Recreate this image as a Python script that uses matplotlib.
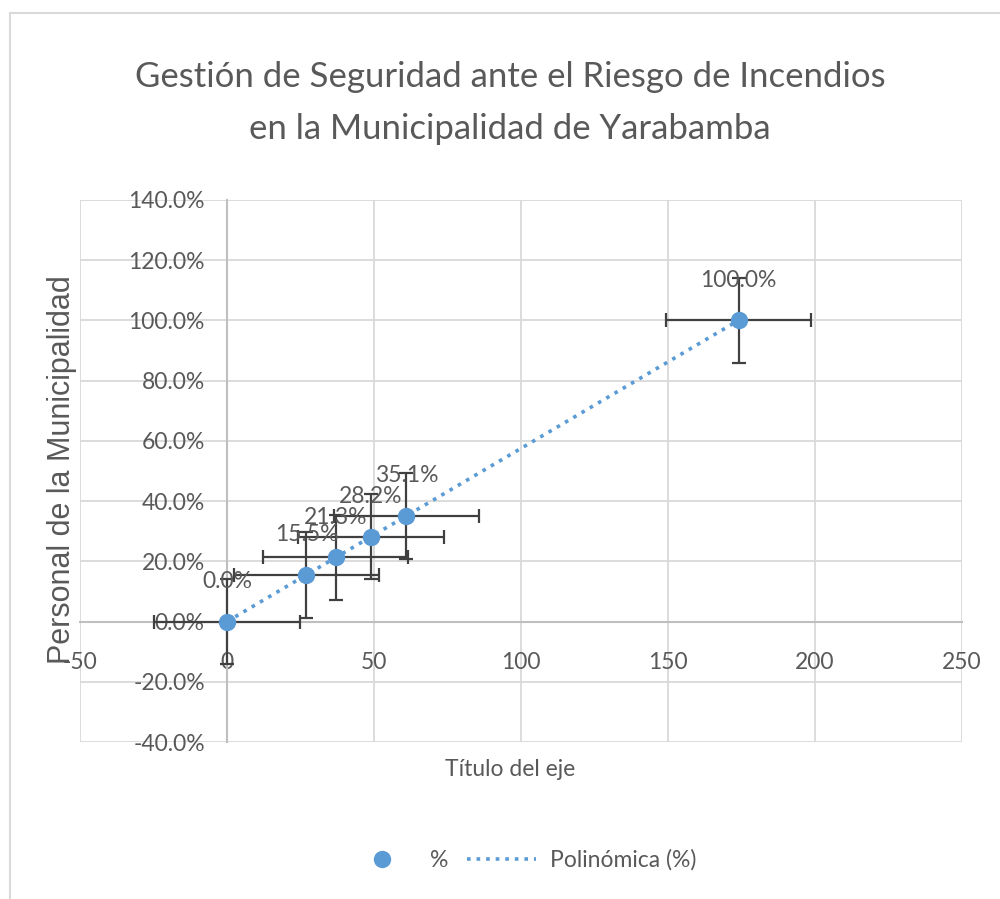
import numpy as np
import matplotlib.pyplot as plt
from matplotlib.ticker import PercentFormatter, MultipleLocator
from matplotlib.patches import Rectangle

# datos
x_vals = [0, 27, 37, 49, 61, 174]
y_vals = [0.0, 0.155, 0.213, 0.282, 0.351, 1.0]
point_labels = ['0.0%', '15.5%', '21.3%', '28.2%', '35.1%', '100.0%']
x_err = 24.7   # error estandar en x
y_err = 0.142  # error estandar en y

blue = '#5B9BD5'
gray_txt = '#595959'

plt.rcParams['font.family'] = ['Lato', 'DejaVu Sans']
plt.rcParams['axes.unicode_minus'] = False

fig = plt.figure(figsize=(10, 8.99), dpi=100)
fig.patches.append(Rectangle((0.010, -0.1), 1.2, 1.085, transform=fig.transFigure,
                             fill=False, edgecolor='#d9d9d9', lw=1.5))

ax = fig.add_axes([0.080, 0.1746, 0.882, 0.603])

# linea de tendencia polinomica (grado 2)
coef = np.polyfit(x_vals, y_vals, 2)
xt = np.linspace(min(x_vals), max(x_vals), 200)
trend, = ax.plot(xt, np.polyval(coef, xt), ':', color=blue, lw=2.6, zorder=3)

ax.errorbar(x_vals, y_vals, xerr=x_err, yerr=y_err, fmt='none',
            ecolor='#404040', elinewidth=1.6, capsize=5, capthick=1.6, zorder=4)
pts, = ax.plot(x_vals, y_vals, 'o', color=blue, ms=11.5, zorder=5)

for x, y, lab in zip(x_vals, y_vals, point_labels):
    ax.annotate(lab, (x, y), xytext=(0, 40), textcoords='offset pixels',
                ha='center', va='center', fontsize=16.5, color=gray_txt, zorder=6)

ax.set_xlim(-50, 250)
ax.set_ylim(-0.4, 1.4)
ax.xaxis.set_major_locator(MultipleLocator(50))
ax.yaxis.set_major_locator(MultipleLocator(0.2))
ax.yaxis.set_major_formatter(PercentFormatter(xmax=1, decimals=1))

ax.grid(True, color='#d9d9d9', lw=1.3, zorder=0)
ax.set_axisbelow(True)
for s in ['top', 'right']:
    ax.spines[s].set_visible(False)
ax.spines['left'].set_position(('data', 0))
ax.spines['bottom'].set_position(('data', 0))
for s in ['left', 'bottom']:
    ax.spines[s].set_color('#bfbfbf')
    ax.spines[s].set_linewidth(1.5)
ax.tick_params(axis='y', length=0, pad=16, labelsize=16.5, labelcolor=gray_txt)
ax.tick_params(axis='x', length=0, pad=22, labelsize=16.5, labelcolor=gray_txt)

fig.text(0.062, 1 - 470 / 899, 'Personal de la Municipalidad', rotation=90,
         ha='center', va='center', fontsize=22, color=gray_txt,
         family=['Liberation Sans', 'DejaVu Sans'])
fig.text(0.51, 1 - 770 / 899, 'Título del eje', ha='center', va='center',
         fontsize=16.5, color=gray_txt)
fig.text(0.51, 1 - 103 / 899,
         'Gestión de Seguridad ante el Riesgo de Incendios\nen la Municipalidad de Yarabamba',
         ha='center', va='center', fontsize=25, color=gray_txt, linespacing=1.75)

fig.legend([pts, trend], ['%', 'Polinómica (%)'], loc='center',
           bbox_to_anchor=(0.522, 1 - 860 / 899), ncol=2,
           frameon=False, fontsize=16.5, labelcolor=gray_txt, handlelength=3.0,
           handletextpad=0.6, columnspacing=0.8, markerscale=1.0)

fig.savefig('out.png', dpi=100)
